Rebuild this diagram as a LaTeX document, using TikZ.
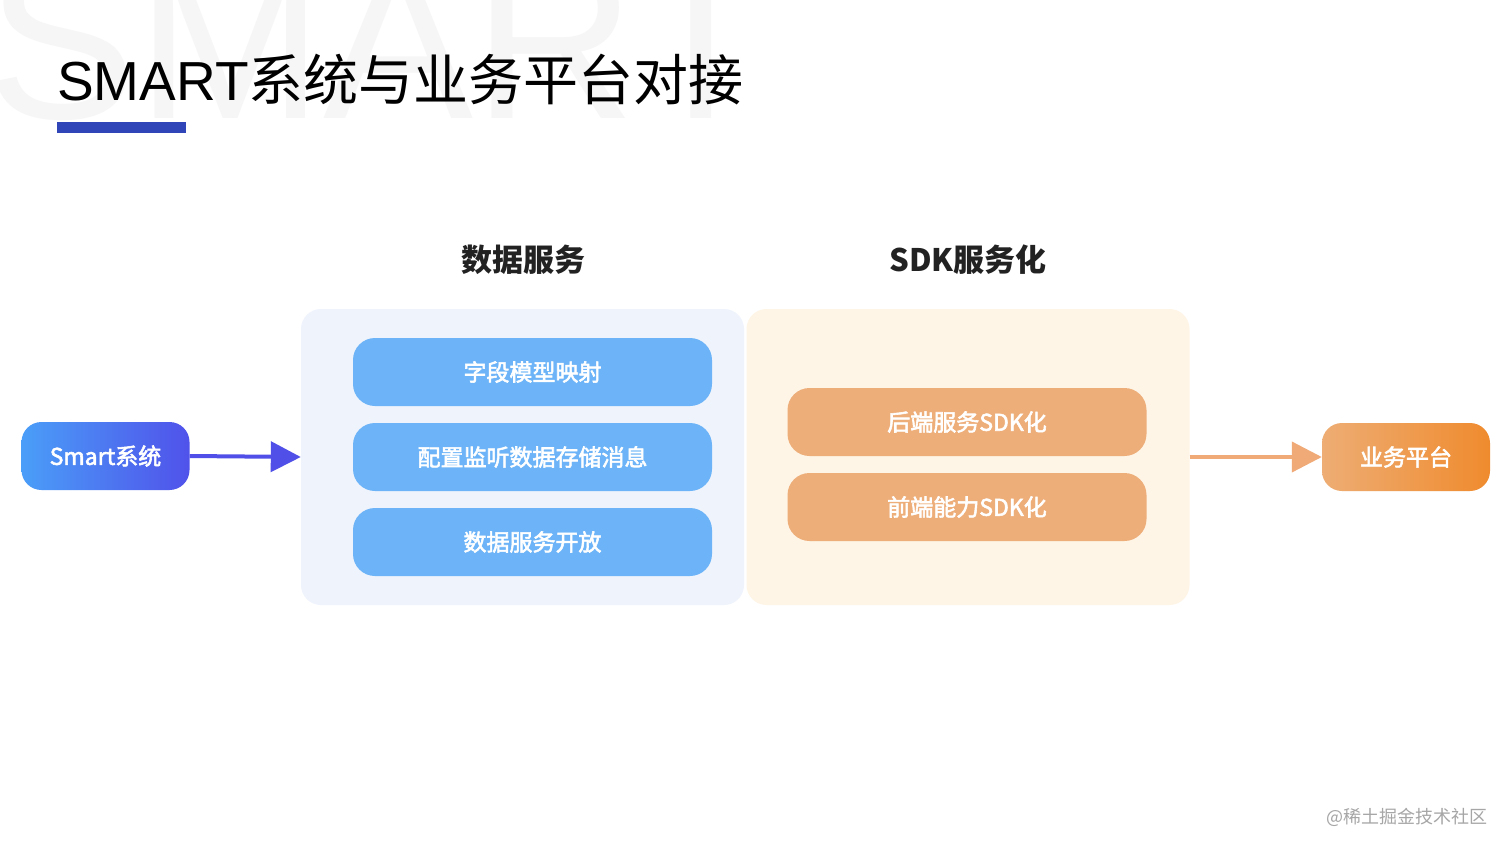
\documentclass[tikz,border=0pt]{standalone}
\usepackage{fontspec}
\setmainfont{Noto Sans CJK SC}
\newfontfamily\cjk{Noto Sans CJK SC}
\newfontfamily\cjkmed[FakeBold=2.5]{Noto Sans CJK SC}
\newfontfamily\latintitle{Liberation Sans}
\usetikzlibrary{arrows.meta}
\definecolor{wm}{HTML}{F6F6F6}
\definecolor{titlebar}{HTML}{2F45B8}
\definecolor{lbox}{HTML}{EEF3FC}
\definecolor{rbox}{HTML}{FEF5E6}
\definecolor{bitem}{HTML}{6CB4F7}
\definecolor{oitem}{HTML}{EEAE7A}
\definecolor{sl}{HTML}{4A9EF8}
\definecolor{sr}{HTML}{5052EA}
\definecolor{ol}{HTML}{EEAD74}
\definecolor{or}{HTML}{EF8B2E}
\definecolor{barrow}{HTML}{5050E8}
\definecolor{oarrow}{HTML}{F0AA78}
\definecolor{headtxt}{HTML}{222222}
\tikzset{
  panel/.style={rounded corners=20pt, draw=none, minimum width=443pt, minimum height=296pt, inner sep=0pt},
  itembox/.style={rounded corners=22pt, draw=none, minimum width=359pt, minimum height=68pt, inner sep=0pt, text=white, font=\cjkmed\fontsize{23}{26}\selectfont},
  endbox/.style={rounded corners=20pt, draw=none, minimum width=168pt, minimum height=68pt, inner sep=0pt, text=white, font=\cjkmed\fontsize{23}{26}\selectfont},
  header/.style={text=headtxt, font=\cjk\fontsize{31}{34}\selectfont\bfseries, inner sep=0pt},
  conn/.style={line width=4pt, -{Triangle[length=30pt,width=30pt]}}
}
\begin{document}
\begin{tikzpicture}[x=1pt,y=-1pt]
\useasboundingbox (0,0) rectangle (1512,851);
\fill[white] (0,0) rectangle (1512,851);
% watermark
\begin{scope}
\clip (0,0) rectangle (1512,851);
\node[anchor=base west, inner sep=0pt, text=wm, font=\latintitle\fontsize{225}{225}\selectfont] (wmk) at (-14,118) {SMART};
\end{scope}
% title
\node[anchor=base west, inner sep=0pt, text=black] (title) at (57,100) {{\latintitle\fontsize{55}{60}\selectfont SMART}{\cjk\fontsize{55}{60}\selectfont 系统与业务平台对接}};
\fill[titlebar] (57,122) rectangle (186,133);
% headers
\node[header] (h1) at (523,260) {数据服务};
\node[header] (h2) at (968,260) {SDK服务化};
% panels
\node[panel, fill=lbox] (pl) at (522.5,457) {};
\node[panel, fill=rbox] (pr) at (968,457) {};
% items
\node[itembox, fill=bitem] (b1) at (532.5,372) {字段模型映射};
\node[itembox, fill=bitem] (b2) at (532.5,457) {配置监听数据存储消息};
\node[itembox, fill=bitem] (b3) at (532.5,542) {数据服务开放};
\node[itembox, fill=oitem] (o1) at (967,422) {后端服务SDK化};
\node[itembox, fill=oitem] (o2) at (967,507) {前端能力SDK化};
% end nodes
\node[endbox, left color=sl, right color=sr] (smart) at (105.5,456) {Smart系统};
\node[endbox, left color=ol, right color=or] (biz) at (1406,457) {业务平台};
% connectors
\draw[conn, barrow] (smart.east) -- (pl.west);
\draw[conn, oarrow] (pr.east) -- (biz.west);
% footer watermark
\node[anchor=east, inner sep=0pt, text=black!35, font=\cjk\fontsize{18}{20}\selectfont] (foot) at (1488,817) {@稀土掘金技术社区};
\end{tikzpicture}
\end{document}
